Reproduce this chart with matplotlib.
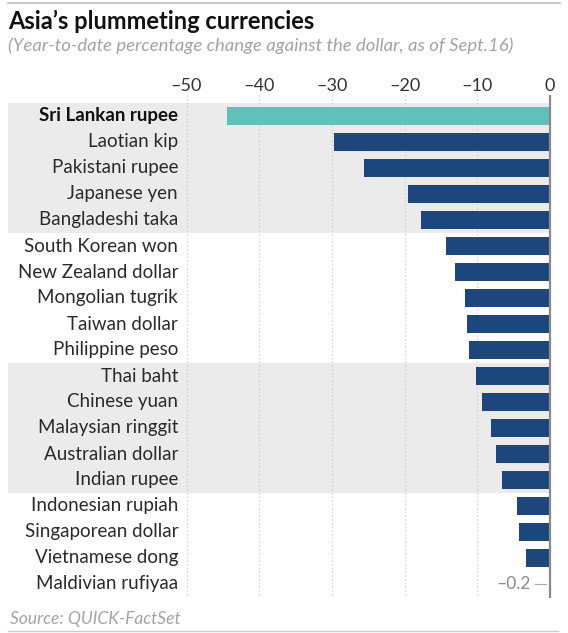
import matplotlib
matplotlib.use("Agg")
import matplotlib.pyplot as plt

currencies = ["Sri Lankan rupee", "Laotian kip", "Pakistani rupee", "Japanese yen",
              "Bangladeshi taka", "South Korean won", "New Zealand dollar",
              "Mongolian tugrik", "Taiwan dollar", "Philippine peso", "Thai baht",
              "Chinese yuan", "Malaysian ringgit", "Australian dollar", "Indian rupee",
              "Indonesian rupiah", "Singaporean dollar", "Vietnamese dong",
              "Maldivian rufiyaa"]
changes = [-44.4, -29.7, -25.6, -19.6, -17.7, -14.3, -13.1, -11.7, -11.4, -11.1,
           -10.2, -9.4, -8.1, -7.4, -6.6, -4.6, -4.3, -3.3, -0.2]
xticks = [-50, -40, -30, -20, -10, 0]
xtick_labels = ["\u201350", "\u201340", "\u201330", "\u201320", "\u201310", "0"]
shaded_groups = [(0, 4), (10, 14)]
highlight = "Sri Lankan rupee"

FONT = "Lato"
NAVY = "#1c467c"
TEAL = "#5fc1ba"
BAND = "#ebebeb"

W, H = 568, 633
fig = plt.figure(figsize=(W / 100, H / 100), dpi=100)
fig.patch.set_facecolor("white")

left_px, right_px, top_px, bot_px = 8, 566, 95, 598
ax = fig.add_axes([left_px / W, 1 - bot_px / H, (right_px - left_px) / W, (bot_px - top_px) / H])
ax.set_facecolor("none")

px_per_unit = 7.27
zero_px = 550
ax.set_xlim((left_px - zero_px) / px_per_unit, (right_px - zero_px) / px_per_unit)
row_px, first_px = 26.0, 116.0
ax.set_ylim((bot_px - first_px) / row_px, (top_px - first_px) / row_px)

xl = ax.get_xlim()
for a, b in shaded_groups:
    ax.fill_betweenx([a - 0.5, b + 0.5], xl[0], 0, color=BAND, lw=0, zorder=0)

for t in xticks[:-1]:
    ax.plot([t, t], [-0.81, 18.55], ls=(0, (1, 2)), color="#c8c8c8", lw=0.9, zorder=1)

ys = list(range(len(currencies)))
colors = [TEAL if c == highlight else NAVY for c in currencies]
ax.barh(ys, changes, height=0.73, color=colors, zorder=2)

ax.plot([0, 0], [-0.81, 18.55], color="#8a8a8a", lw=1.6, zorder=3)

label_x = (178 - zero_px) / px_per_unit
for y, c in zip(ys, currencies):
    bold = c == highlight
    ax.text(label_x, y, c, ha="right", va="center", fontsize=13.5,
            family=FONT, fontweight="bold" if bold else "normal",
            color="#111111" if bold else "#2a2a2a")

yi = len(currencies) - 1
ax.text(-2.6, yi, "\u20130.2", ha="right", va="center", fontsize=12.5, family=FONT, color="#8a8a8a")
ax.plot([-2.1, -0.6], [yi, yi], color="#aaaaaa", lw=0.8)

ax.xaxis.tick_top()
ax.set_xticks(xticks)
ax.set_xticklabels(xtick_labels, family=FONT, fontsize=13, color="#333333")
ax.tick_params(axis="x", length=0, pad=1)
ax.set_yticks([])
for s in ax.spines.values():
    s.set_visible(False)

fig.text(8 / W, 1 - 21 / H, "Asia\u2019s plummeting currencies", ha="left", va="center",
         fontsize=17, fontweight="bold", family=FONT, color="#111111")
fig.text(8 / W, 1 - 46 / H, "(Year-to-date percentage change against the dollar, as of Sept.16)",
         ha="left", va="center", fontsize=13.3, style="italic",
         family=FONT, color="#a3a3a3")
fig.text(10 / W, 1 - 619 / H, "Source: QUICK-FactSet", ha="left", va="center",
         fontsize=12.5, style="italic", family=FONT, color="#a3a3a3")

fig.add_artist(plt.Line2D([8 / W, 560 / W], [1 - 3 / H, 1 - 3 / H], color="#bbbbbb", lw=1.2))
fig.add_artist(plt.Line2D([8 / W, 558 / W], [1 - 631 / H, 1 - 631 / H], color="#cccccc", lw=1.0))

fig.savefig("out.png", dpi=100, facecolor="white")
